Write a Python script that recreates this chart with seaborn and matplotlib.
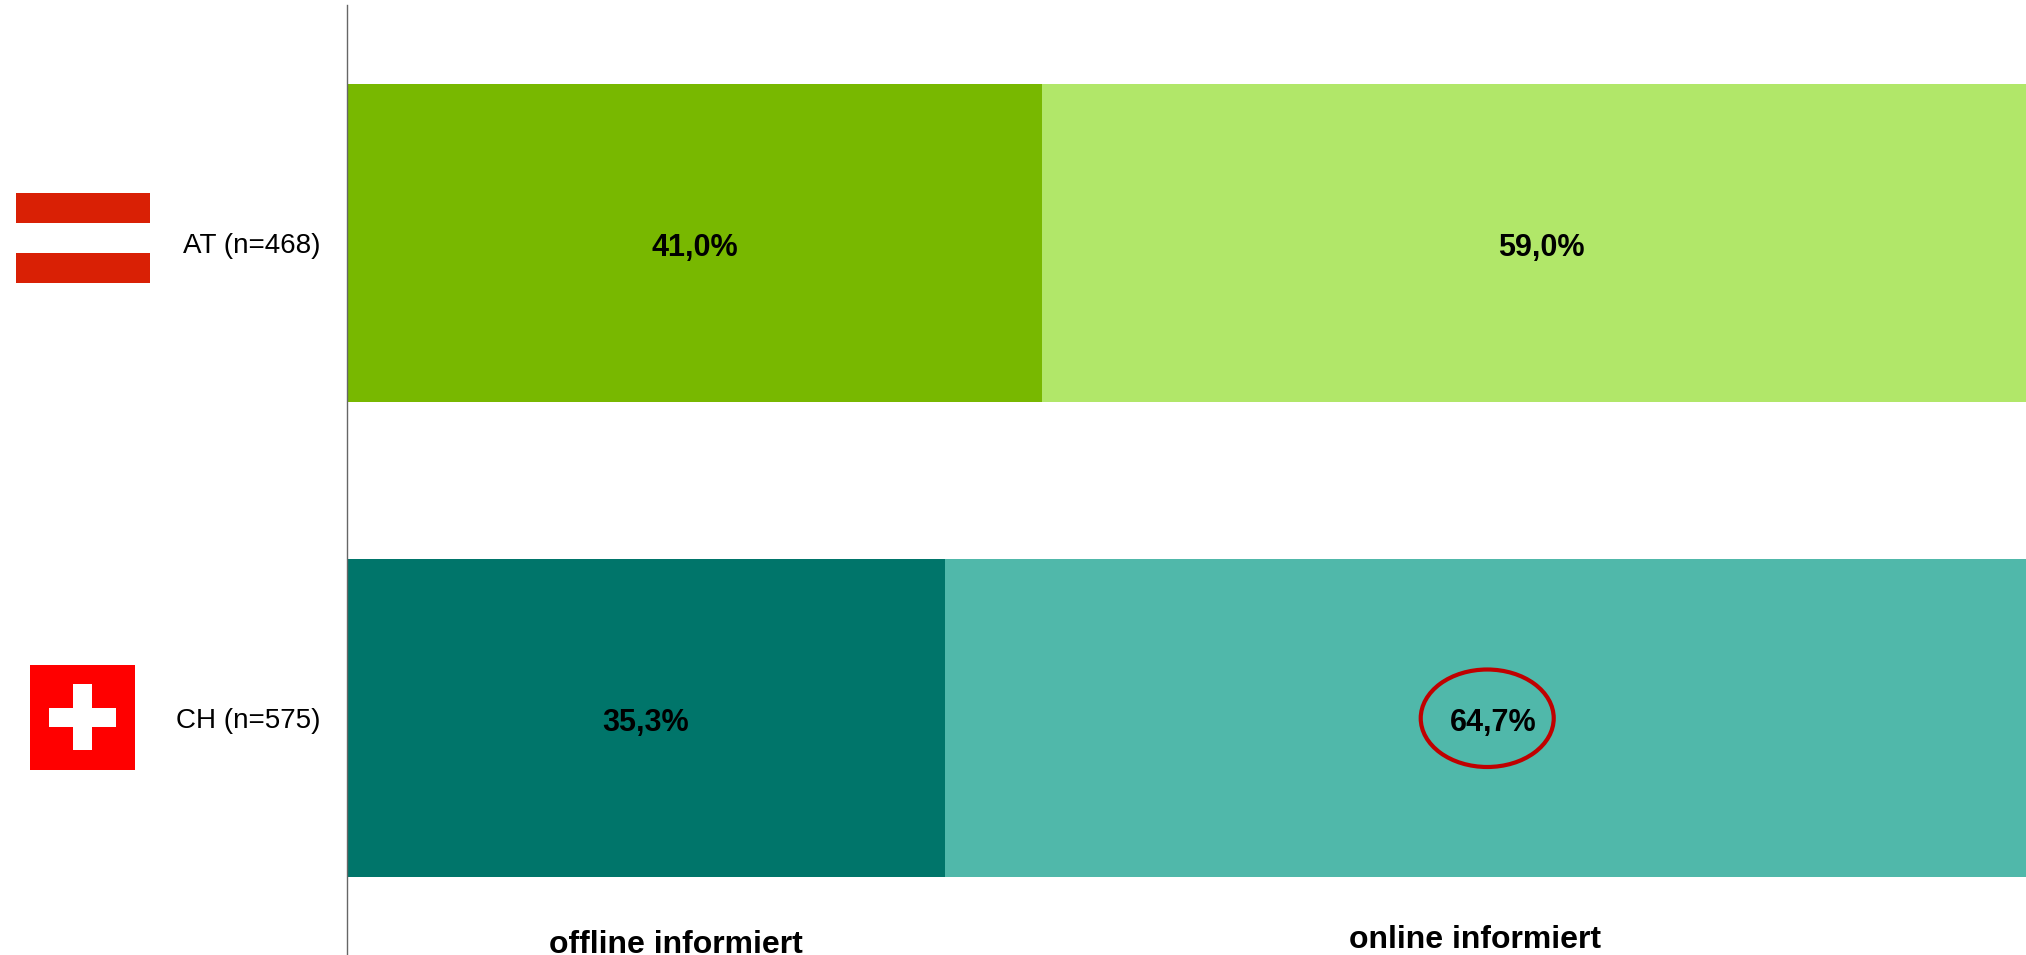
import pandas as pd
import seaborn as sns
import matplotlib.pyplot as plt
from matplotlib.patches import Rectangle, Ellipse

laender = ["AT (n=468)", "CH (n=575)"]
offline = [41.0, 35.3]
online = [59.0, 64.7]
farben_offline = ["#78b800", "#00756a"]
farben_online = ["#b1e769", "#50b8aa"]

df = pd.DataFrame({"land": laender, "offline": offline, "online": online})
df["gesamt"] = df["offline"] + df["online"]

W, H = 2026, 955

sns.set_style("white")
plt.rcParams["font.family"] = ["Liberation Sans", "DejaVu Sans"]

fig = plt.figure(figsize=(W / 100, H / 100), dpi=100)
ax = fig.add_axes([347 / W, -1 / H, (W - 347) / W, 951 / H])

# gesamter Balken hinten, offline-Anteil darueber
sns.barplot(data=df, y="land", x="gesamt", hue="land", palette=farben_online,
            width=0.669, dodge=False, legend=False, saturation=1, linewidth=0, ax=ax)
sns.barplot(data=df, y="land", x="offline", hue="land", palette=farben_offline,
            width=0.669, dodge=False, legend=False, saturation=1, linewidth=0, ax=ax)

ax.set_xlim(0, 99.1)  # Balken laufen rechts aus dem Bild
ax.set_ylim(1.5, -0.5)
ax.set_xlabel("")
ax.set_ylabel("")
ax.set_xticks([])
ax.tick_params(axis="y", length=0, pad=19, labelsize=20, labelcolor="black")

sns.despine(ax=ax, top=True, right=True, bottom=True)
ax.spines["left"].set_color("#666666")
ax.spines["left"].set_linewidth(1)


def fmt(v):
    return f"{v:.1f}".replace(".", ",") + "%"


for i, row in df.iterrows():
    ax.text(row["offline"] / 2, i + 0.01, fmt(row["offline"]), ha="center", va="center",
            fontsize=22, fontweight="bold", color="black")
    ax.text(row["offline"] + row["online"] / 2, i + 0.01, fmt(row["online"]), ha="center", va="center",
            fontsize=22, fontweight="bold", color="black", clip_on=True)

# Markierung um den CH-Wert
ax.add_patch(Ellipse((67.3, 1.0), 7.85, 0.205, fill=False, edgecolor="#c00000", linewidth=3, zorder=5))

ax.text(19.4, 1.4937, "offline informiert", ha="center", va="baseline", fontsize=23, fontweight="bold",
        color="black", clip_on=False)
ax.text(66.6, 1.483, "online informiert", ha="center", va="baseline", fontsize=23, fontweight="bold",
        color="black", clip_on=False)


def rechteck(x0, y0, x1, y1, farbe):
    fig.add_artist(Rectangle((x0 / W, 1 - y1 / H), (x1 - x0) / W, (y1 - y0) / H,
                             transform=fig.transFigure, facecolor=farbe, edgecolor="none"))


# Flagge AT
rechteck(16, 193, 150, 223, "#d92005")
rechteck(16, 253, 150, 283, "#d92005")

# Flagge CH
rechteck(30, 665, 135, 770, "#ff0000")
rechteck(49, 708, 116, 727, "white")
rechteck(73, 684, 92, 750, "white")

fig.savefig("out.png", dpi=100)
